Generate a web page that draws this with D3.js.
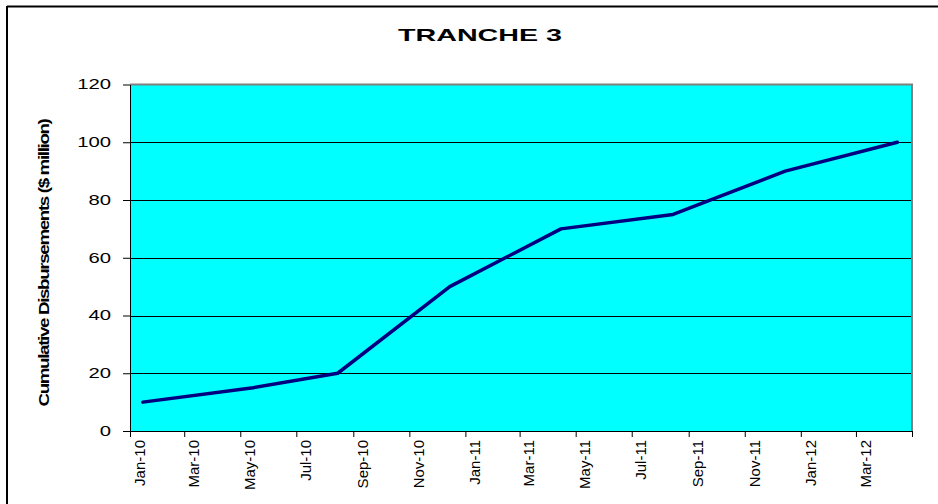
<!DOCTYPE html>
<html lang="en">
<head>
<meta charset="utf-8">
<title>Tranche 3</title>
<script src="https://cdn.jsdelivr.net/npm/d3@7/dist/d3.min.js"></script>
<style>
  body { margin: 0; background: #fff; }
  text { font-family: "Liberation Sans", Arial, sans-serif; }
</style>
</head>
<body>
<script>
// data
var dates = ["2010-01-15", "2010-05-15", "2010-08-15", "2010-12-15",
             "2011-04-15", "2011-08-15", "2011-12-15", "2012-04-15"];
var values = [10, 15, 20, 50, 70, 75, 90, 100];
var yTicks = [0, 20, 40, 60, 80, 100, 120];
var titleText = "TRANCHE 3";
var yLabel = "Cumulative Disbursements ($ million)";

var w = 938, h = 504;
var plotLeft = 130, plotRight = 912, plotTop = 84.5, plotBottom = 431;

var parse = d3.timeParse("%Y-%m-%d");
var data = dates.map(function(d, i) { return { date: parse(d), value: values[i] }; });

var svg = d3.select("body").append("svg")
    .attr("width", w)
    .attr("height", h);

// chart frame (only top and left edges show in the crop)
svg.append("line").attr("x1", 7).attr("x2", w).attr("y1", 6.5).attr("y2", 6.5)
    .attr("stroke", "#000").attr("stroke-width", 2);
svg.append("line").attr("x1", 7).attr("x2", 7).attr("y1", 6).attr("y2", h)
    .attr("stroke", "#000").attr("stroke-width", 2);

var x = d3.scaleTime()
    .domain([new Date(2010, 0, 1), new Date(2012, 4, 1)])
    .range([plotLeft, plotRight]);

var y = d3.scaleLinear()
    .domain([0, 120])
    .range([plotBottom, plotTop]);

// plot background
svg.append("rect")
    .attr("x", plotLeft).attr("y", plotTop)
    .attr("width", plotRight - plotLeft).attr("height", plotBottom - plotTop)
    .attr("fill", "#00ffff");

// gridlines
svg.append("g").selectAll("line")
    .data(yTicks.filter(function(d) { return d > 0 && d < 120; }))
    .enter().append("line")
    .attr("x1", plotLeft).attr("x2", plotRight)
    .attr("y1", function(d) { return Math.round(y(d)) + 0.5; })
    .attr("y2", function(d) { return Math.round(y(d)) + 0.5; })
    .attr("stroke", "#000").attr("stroke-width", 1);

// plot border top/right in grey
svg.append("path")
    .attr("d", "M" + plotLeft + "," + plotTop + "H" + plotRight + "V" + plotBottom)
    .attr("fill", "none").attr("stroke", "#808080").attr("stroke-width", 2);

// y axis
var yAxis = svg.append("g")
    .attr("transform", "translate(" + plotLeft + ",0)")
    .call(d3.axisLeft(y).tickValues(yTicks).tickSize(7).tickSizeOuter(0).tickPadding(12));
yAxis.select(".domain").attr("stroke", "#000");
yAxis.selectAll(".tick line").attr("stroke", "#000");
yAxis.selectAll(".tick text")
    .attr("font-size", 14)
    .attr("fill", "#000")
    .attr("font-family", "Liberation Sans, Arial, sans-serif")
    .attr("transform", "translate(-19,0) scale(1.45,1) translate(19,0)");

// x axis
var xTicks = d3.timeMonth.every(2).range(new Date(2010, 0, 1), new Date(2012, 4, 2));
var xAxis = svg.append("g")
    .attr("transform", "translate(0," + plotBottom + ")")
    .call(d3.axisBottom(x).tickValues(xTicks).tickSize(6).tickSizeOuter(0)
        .tickFormat(d3.timeFormat("%b-%y")));
xAxis.select(".domain").attr("stroke", "#000");
xAxis.selectAll(".tick line").attr("stroke", "#000");
xAxis.selectAll(".tick text")
    .attr("font-size", 15)
    .attr("fill", "#000")
    .attr("font-family", "Liberation Sans, Arial, sans-serif")
    .attr("text-anchor", "end")
    .attr("transform", "rotate(-90)")
    .attr("x", -9)
    .attr("y", 9)
    .attr("dy", "0.35em")
    .filter(function(d) { return d.getTime() === new Date(2012, 4, 1).getTime(); })
    .remove();

// the line
var line = d3.line()
    .x(function(d) { return x(d.date); })
    .y(function(d) { return y(d.value); });

svg.append("path")
    .datum(data)
    .attr("d", line)
    .attr("fill", "none")
    .attr("stroke", "#000080")
    .attr("stroke-width", 3.5)
    .attr("stroke-linejoin", "round")
    .attr("stroke-linecap", "round");

// title
svg.append("text")
    .attr("x", 398)
    .attr("y", 41)
    .attr("font-size", 17)
    .attr("font-weight", "bold")
    .attr("textLength", 164)
    .attr("lengthAdjust", "spacingAndGlyphs")
    .text(titleText);

// y axis title
svg.append("text")
    .attr("transform", "translate(49,263) rotate(-90)")
    .attr("text-anchor", "middle")
    .attr("font-size", 14)
    .attr("font-weight", "bold")
    .attr("textLength", 287)
    .attr("lengthAdjust", "spacingAndGlyphs")
    .attr("letter-spacing", -1)
    .text(yLabel);
</script>
</body>
</html>
